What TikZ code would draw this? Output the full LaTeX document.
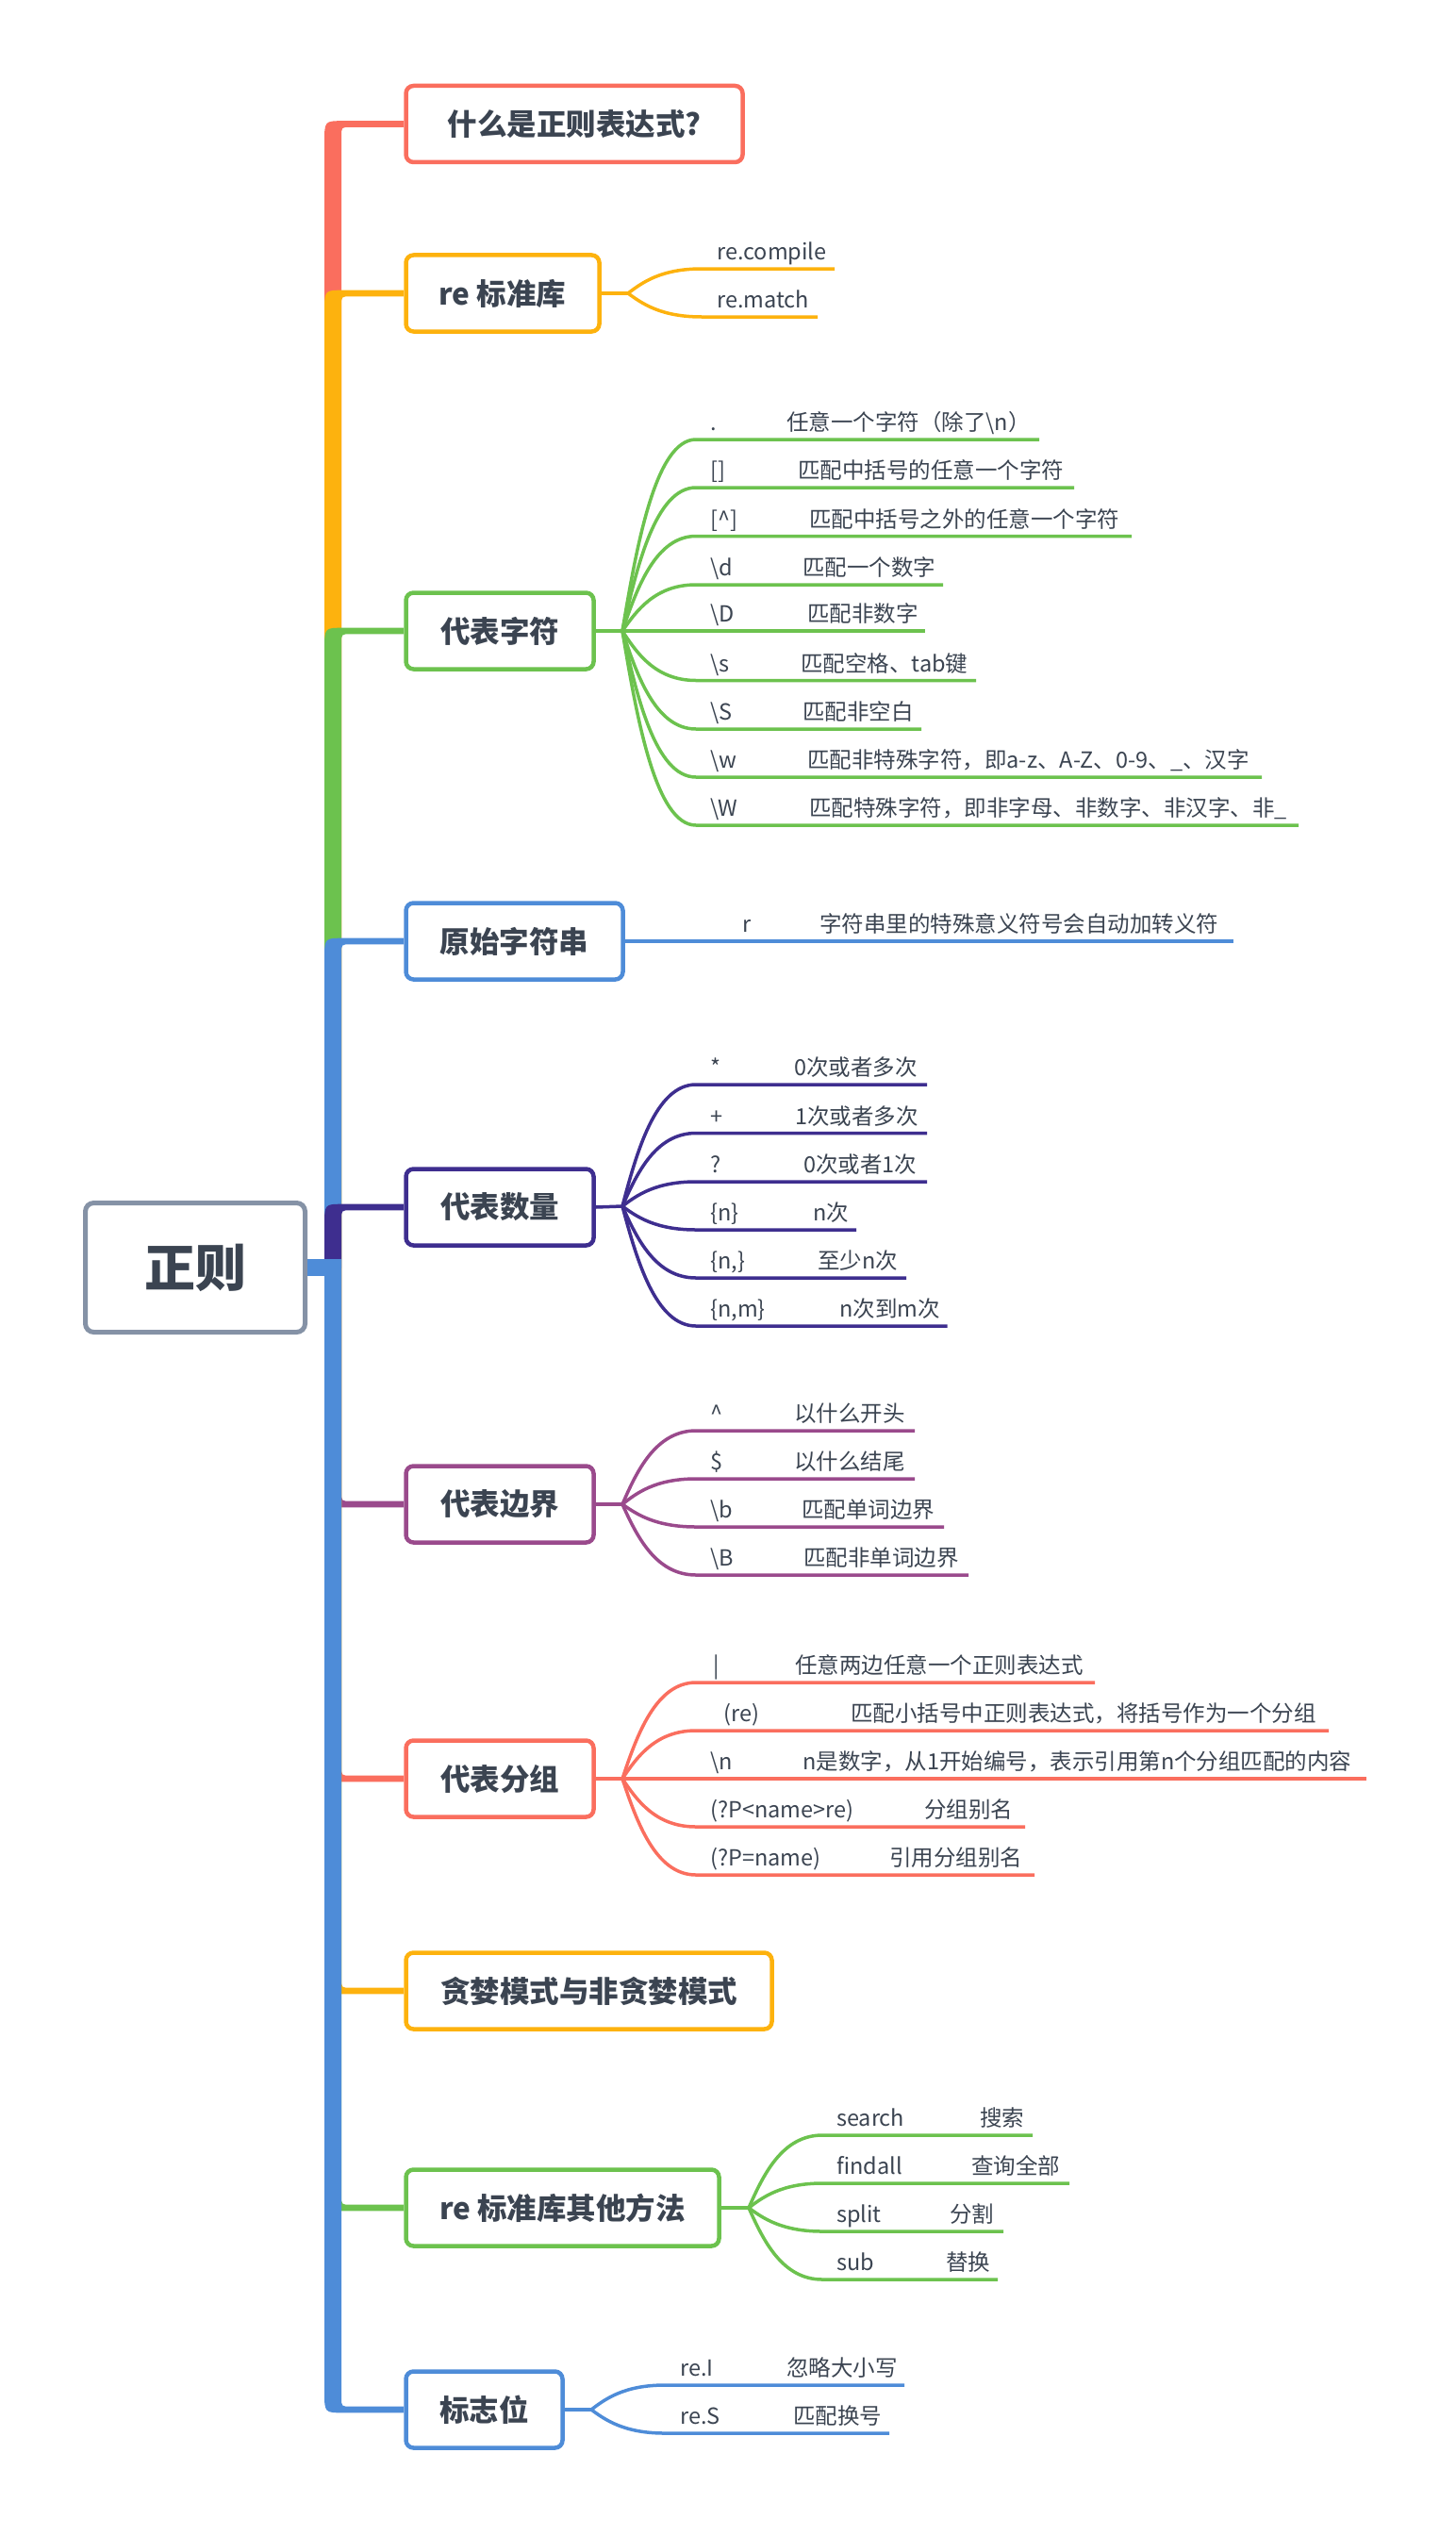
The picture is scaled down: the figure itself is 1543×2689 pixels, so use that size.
\documentclass[tikz,border=0pt]{standalone}
\usepackage{fontspec}
\setmainfont{Noto Sans CJK SC}
\definecolor{cRed}{HTML}{FA6E5E}
\definecolor{cOrange}{HTML}{FDB20E}
\definecolor{cGreen}{HTML}{6CC24E}
\definecolor{cBlue}{HTML}{4E8CD8}
\definecolor{cIndigo}{HTML}{3E2E8F}
\definecolor{cMag}{HTML}{9A4A8C}
\definecolor{cGray}{HTML}{8592A6}
\definecolor{cText}{HTML}{3B4451}
\newcount\lfn
\newcommand{\leaf}[9]{%
  \global\advance\lfn by 1
  \pgfmathsetmacro{\lfcy}{#3+0.44*(#4-#3)}%
  \coordinate (ls\the\lfn) at (#2+78,#4);
  \coordinate (le\the\lfn) at (#5,#4);
  \draw[#1, leafline] (#2,#3) .. controls (#2+15,\lfcy) and (#2+35,#4) .. (ls\the\lfn) -- (le\the\lfn);
  \node[leaftext, anchor=base west] (lk\the\lfn) at (#6,#4-9.5) {#7};
  \node[leaftext, anchor=base west] (lv\the\lfn) at (#8,#4-9.5) {#9};
}
% main branch: #1 colour, #2 y of box centre, #3 sign (-1 above root, +1 below)
\newcommand{\branch}[3]{%
  \fill[#1] (344,1344) -- (344,#2-#3*20) .. controls (344,#2+#3*3.3) .. (364,#2+#3*3.3)
    -- (428,#2+#3*3.3) -- (428,#2-#3*3.3) -- (372,#2-#3*3.3)
    .. controls (362,#2-#3*3.3) .. (362,#2-#3*13.3) -- (362,1344) -- cycle;
}
\begin{document}
\begin{tikzpicture}[x=1pt,y=-1pt,
  box/.style={draw, line width=4.5pt, rounded corners=8pt, fill=white, text=cText,
    font=\fontsize{31.5}{36}\selectfont\bfseries, minimum height=81pt, inner sep=0pt},
  leaftext/.style={text=cText, font=\fontsize{23.5}{28}\selectfont, inner sep=0pt},
  leafline/.style={line width=3.5pt}]
\useasboundingbox (0,0) rectangle (1543,2689);

% ---- main branches, in drawing order ----
\branch{cRed}{131.5}{-1}
\branch{cOrange}{311}{-1}
\branch{cGreen}{669}{-1}
\branch{cBlue}{998}{-1}
\branch{cIndigo}{1280}{-1}
\branch{cMag}{1595}{1}
\branch{cRed}{1886}{1}
\branch{cOrange}{2111}{1}
\branch{cGreen}{2341}{1}
\branch{cBlue}{2555}{1}

% ---- root ----
\node[draw=cGray, line width=5pt, rounded corners=9pt, fill=white, text=cText,
  font=\fontsize{54}{60}\selectfont\bfseries, minimum width=233pt, minimum height=137pt,
  inner sep=0pt] (root) at (207,1344) {正则};
\coordinate (rj) at (362,1344);
\draw[cBlue, line width=18pt] (root.east) -- (rj);

% ---- boxes ----
\node[box, draw=cRed, minimum width=357pt] (b1) at (609,131.5) {什么是正则表达式?};
\node[box, draw=cOrange, minimum width=205pt] (b2) at (533,311) {re 标准库};
\node[box, draw=cGreen, minimum width=199pt] (b3) at (530,669) {代表字符};
\node[box, draw=cBlue, minimum width=230pt] (b4) at (545.5,998) {原始字符串};
\node[box, draw=cIndigo, minimum width=199pt] (b5) at (530,1280) {代表数量};
\node[box, draw=cMag, minimum width=199pt] (b6) at (530,1595) {代表边界};
\node[box, draw=cRed, minimum width=199pt] (b7) at (530,1886) {代表分组};
\node[box, draw=cOrange, minimum width=388pt] (b8) at (624.5,2111) {贪婪模式与非贪婪模式};
\node[box, draw=cGreen, minimum width=332pt] (b9) at (596.5,2341) {re 标准库其他方法};
\node[box, draw=cBlue, minimum width=166pt] (b10) at (513.5,2555) {标志位};

% ---- re 标准库 ----
\coordinate (h2) at (666,311);
\draw[cOrange, leafline] (b2.east) -- (h2);
\leaf{cOrange}{666}{311}{285}{885}{760}{re.compile}{760}{}
\leaf{cOrange}{666}{311}{336}{867}{760}{re.match}{760}{}

% ---- 代表字符 ----
\coordinate (h3) at (660,669);
\draw[cGreen, leafline] (b3.east) -- (h3);
\leaf{cGreen}{660}{669}{466}{1102}{753}{.}{834}{任意一个字符（除了\textbackslash n）}
\leaf{cGreen}{660}{669}{517}{1139}{753}{[]}{846}{匹配中括号的任意一个字符}
\leaf{cGreen}{660}{669}{568.5}{1200}{753}{[\textasciicircum]}{858}{匹配中括号之外的任意一个字符}
\leaf{cGreen}{660}{669}{620}{1000}{753}{\textbackslash d}{851}{匹配一个数字}
\leaf{cGreen}{660}{669}{669}{981}{753}{\textbackslash D}{856}{匹配非数字}
\leaf{cGreen}{660}{669}{721.5}{1035}{753}{\textbackslash s}{849}{匹配空格、tab键}
\leaf{cGreen}{660}{669}{773}{977}{753}{\textbackslash S}{851}{匹配非空白}
\leaf{cGreen}{660}{669}{824}{1338}{753}{\textbackslash w}{856}{匹配非特殊字符，即a-z、A-Z、0-9、\_、汉字}
\leaf{cGreen}{660}{669}{875}{1377}{753}{\textbackslash W}{858}{匹配特殊字符，即非字母、非数字、非汉字、非\_}

% ---- 原始字符串 ----
\coordinate (e4) at (1308,998);
\draw[cBlue, leafline] (b4.east) -- (e4);
\node[leaftext, anchor=base west] (k4) at (787,988.5) {r};
\node[leaftext, anchor=base west] (v4) at (869,988.5) {字符串里的特殊意义符号会自动加转义符};

% ---- 代表数量 ----
\coordinate (h5) at (660,1279);
\draw[cIndigo, leafline] (b5.east) -- (h5);
\leaf{cIndigo}{660}{1279}{1150}{983}{753}{*}{842}{0次或者多次}
\leaf{cIndigo}{660}{1279}{1201.5}{983}{753}{+}{843}{1次或者多次}
\leaf{cIndigo}{660}{1279}{1253}{983}{753}{?}{852}{0次或者1次}
\leaf{cIndigo}{660}{1279}{1304}{908}{753}{\{n\}}{862}{n次}
\leaf{cIndigo}{660}{1279}{1355}{961}{753}{\{n,\}}{867}{至少n次}
\leaf{cIndigo}{660}{1279}{1406}{1004.5}{753}{\{n,m\}}{890}{n次到m次}

% ---- 代表边界 ----
\coordinate (h6) at (660,1595);
\draw[cMag, leafline] (b6.east) -- (h6);
\leaf{cMag}{660}{1595}{1517}{970}{753}{\textasciicircum}{842}{以什么开头}
\leaf{cMag}{660}{1595}{1568}{970}{753}{\$}{842}{以什么结尾}
\leaf{cMag}{660}{1595}{1619}{1001}{753}{\textbackslash b}{850}{匹配单词边界}
\leaf{cMag}{660}{1595}{1670}{1027}{753}{\textbackslash B}{852}{匹配非单词边界}

% ---- 代表分组 ----
\coordinate (h7) at (660,1886);
\draw[cRed, leafline] (b7.east) -- (h7);
\leaf{cRed}{660}{1886}{1784}{1161}{756}{|}{843}{任意两边任意一个正则表达式}
\leaf{cRed}{660}{1886}{1835}{1409}{767}{(re)}{902}{匹配小括号中正则表达式，将括号作为一个分组}
\leaf{cRed}{660}{1886}{1886}{1449}{753}{\textbackslash n}{851}{n是数字，从1开始编号，表示引用第n个分组匹配的内容}
\leaf{cRed}{660}{1886}{1937}{1087}{753}{(?P<name>re)}{980}{分组别名}
\leaf{cRed}{660}{1886}{1988}{1097}{753}{(?P=name)}{943}{引用分组别名}

% ---- re 标准库其他方法 ----
\coordinate (h9) at (794,2341);
\draw[cGreen, leafline] (b9.east) -- (h9);
\leaf{cGreen}{794}{2341}{2264}{1095}{887}{search}{1039}{搜索}
\leaf{cGreen}{794}{2341}{2315}{1134}{887}{findall}{1030}{查询全部}
\leaf{cGreen}{794}{2341}{2366}{1064}{887}{split}{1007}{分割}
\leaf{cGreen}{794}{2341}{2417}{1058}{887}{sub}{1003}{替换}

% ---- 标志位 ----
\coordinate (h10) at (627,2555);
\draw[cBlue, leafline] (b10.east) -- (h10);
\leaf{cBlue}{627}{2555}{2529}{959}{721}{re.I}{834}{忽略大小写}
\leaf{cBlue}{627}{2555}{2580}{943}{721}{re.S}{841}{匹配换号}
\end{tikzpicture}
\end{document}
